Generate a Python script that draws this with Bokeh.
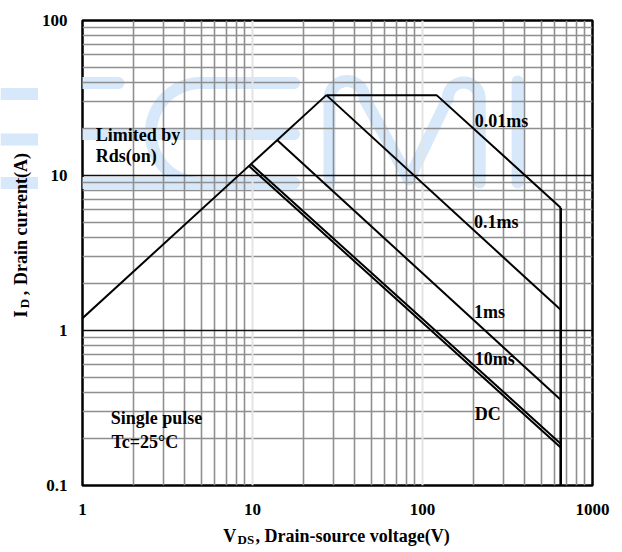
import numpy as np
from bokeh.plotting import figure
from bokeh.layouts import column, row
from bokeh.models import (FixedTicker, CustomJSTickFormatter, Span, Label, Range1d)
from bokeh.core.properties import value
from bokeh.embed import file_html
from bokeh.resources import INLINE

# ---------------- data ----------------
x_ticks = [1, 10, 100, 1000]
y_ticks = [0.1, 1, 10, 100]
x_minor = [2, 3, 4, 5, 6, 7, 8, 9, 20, 30, 40, 50, 60, 70, 80, 90,
           200, 300, 400, 500, 600, 700, 800, 900]
y_minor = [0.2, 0.3, 0.4, 0.5, 0.6, 0.7, 0.8, 0.9, 2, 3, 4, 5, 6, 7, 8, 9,
           20, 30, 40, 50, 60, 70, 80, 90]

rds_v = [1.0, 27.2]
rds_i = [1.2, 33.0]
us10_v = [27.2, 121.0, 650.0]
us10_i = [33.0, 33.0, 6.2]
us100_v = [27.2, 650.0]
us100_i = [33.0, 1.36]
ms1_v = [14.0, 650.0]
ms1_i = [16.9, 0.357]
ms10_v = [9.75, 650.0]
ms10_i = [11.9, 0.186]
dc_v = [9.5, 650.0]
dc_i = [11.55, 0.176]
bv_v = [650.0, 650.0]
bv_i = [6.2, 0.1]

curve_names = ["0.01ms", "0.1ms", "1ms", "10ms", "DC"]

x_title = ["V", "DS", ", Drain-source voltage(V)"]
y_title = ["I", "D", ",", "Drain current(A)"]

# ---------------- layout ----------------
TOTAL_W, TOTAL_H = 620, 552
YW = 38            # width of the y-title strip
MAIN_H = 522       # height of the main plot canvas
FX0, FX1 = 81.0, 592.0
FY0, FY1 = 20.0, 485.0
FDEC = (FX1 - FX0) / 3.0
FDECY = (FY1 - FY0) / 3.0
SH18 = 6.5         # baseline correction for 18px text
SH13 = 4.7         # baseline correction for 13px text


def dx(px):
    return 10 ** ((px - FX0) / FDEC)


def dy(py):
    return 10 ** (2 - (py - FY0) / FDECY)


FONT = "Liberation Serif"
WM = "#d6e8fa"

main_w = TOTAL_W - YW
p = figure(width=main_w, height=MAIN_H, x_axis_type="log", y_axis_type="log",
           x_range=Range1d(1, 1000), y_range=Range1d(0.1, 100),
           output_backend="svg", toolbar_location=None,
           min_border_left=int(FX0 - YW), min_border_right=int(main_w - (FX1 - YW)),
           min_border_top=int(FY0), min_border_bottom=int(MAIN_H - FY1))
p.background_fill_color = "white"
p.border_fill_color = "white"
p.outline_line_color = "black"
p.outline_line_width = 2.5

# ---------------- watermark (decorative) ----------------
wm_paths = []
wm_paths.append([(70, 82.5), (117, 82.5)])
wm_paths.append([(70, 133.5), (293, 133.5)])
wm_paths.append([(70, 182.5), (293, 182.5)])
ang = np.linspace(-np.pi / 2, -3 * np.pi / 2, 30)
cpath = [(293, 82.5)] + [(199.5 + 50 * np.cos(a), 132.5 + 50 * np.sin(a)) for a in ang] + [(293, 182.5)]
wm_paths.append(cpath)
a1 = np.linspace(np.pi, 2 * np.pi, 20)
mpath = [(328.5, 182), (328.5, 98)]
mpath += [(346 + 17.5 * np.cos(a), 98 + 17.5 * np.sin(a)) for a in a1]
mpath += [(408, 179)]
mpath += [(463 + 16 * np.cos(a), 98 + 16 * np.sin(a)) for a in a1]
mpath += [(479, 182)]
wm_paths.append(mpath)
wm_paths.append([(517, 81), (517, 182)])

wm = p.multi_line([[dx(x) for x, _ in path] for path in wm_paths],
                  [[dy(y) for _, y in path] for path in wm_paths],
                  line_color=WM, line_width=12, line_cap="round", line_join="round")
wm.level = "image"

# ---------------- grid ----------------
p.xgrid.ticker = FixedTicker(ticks=x_minor)
p.ygrid.ticker = FixedTicker(ticks=y_minor)
for g in (p.xgrid, p.ygrid):
    g.grid_line_color = "#8f8f8f"
    g.grid_line_width = 1.6
for loc in (10, 100):
    p.add_layout(Span(location=loc, dimension="height", line_color="#e4e4e4",
                      line_width=2, level="underlay"))
for loc in (1, 10):
    p.add_layout(Span(location=loc, dimension="width", line_color="#111111",
                      line_width=1.6, level="underlay"))

# ---------------- axes ----------------
fmt = CustomJSTickFormatter(code="return tick.toString();")
p.xaxis.ticker = FixedTicker(ticks=x_ticks)
p.yaxis.ticker = FixedTicker(ticks=y_ticks)
for ax in (p.xaxis, p.yaxis):
    ax.formatter = fmt
    ax.axis_line_color = None
    ax.major_tick_line_color = None
    ax.minor_tick_line_color = None
    ax.major_tick_out = 0
    ax.major_tick_in = 0
    ax.major_label_text_font = FONT
    ax.major_label_text_font_style = "bold"
    ax.major_label_text_font_size = "17px"
    ax.major_label_text_color = "black"
p.xaxis.major_label_standoff = 18
p.yaxis.major_label_standoff = 15

# ---------------- curves ----------------
LW = 2.0
p.line(rds_v, rds_i, line_color="black", line_width=LW)
p.line(us10_v, us10_i, line_color="black", line_width=LW)
p.line(us100_v, us100_i, line_color="black", line_width=LW)
p.line(ms1_v, ms1_i, line_color="black", line_width=LW)
p.line(ms10_v, ms10_i, line_color="black", line_width=LW)
p.line(dc_v, dc_i, line_color="black", line_width=LW)
p.line(bv_v, bv_i, line_color="black", line_width=2.6)


def lab(px, py, text, size="18px"):
    p.add_layout(Label(x=dx(px), y=dy(py - SH18), text=text, text_font=FONT,
                       text_font_style="bold", text_font_size=size,
                       text_color="black", text_align="left",
                       text_baseline="alphabetic"))


lab(94.3, 141, "Limited by")
lab(94.3, 161.5, "Rds(on)")
curve_label_pos = [(474, 126.5), (473.3, 228), (473.3, 318), (474, 365), (474, 420)]
for (px, py), name in zip(curve_label_pos, curve_names):
    lab(px, py, name)
lab(109.3, 424, "Single pulse")
lab(110, 448, "Tc=25°C")


# ---------------- helper strips for the axis titles ----------------
def strip(w, h, x0, y0):
    f = figure(width=w, height=h, x_range=Range1d(x0, x0 + w), y_range=Range1d(y0 + h, y0),
               output_backend="svg", toolbar_location=None,
               x_axis_location=None, y_axis_location=None, min_border=0)
    f.outline_line_color = None
    f.background_fill_color = "white"
    f.border_fill_color = "white"
    f.xgrid.visible = False
    f.ygrid.visible = False
    return f


ys = strip(YW, MAIN_H, 0, 0)
wmb = ys.segment(x0=[0, 0, 0], y0=[82.5, 133.5, 182.5], x1=[YW + 5] * 3, y1=[82.5, 133.5, 182.5],
                 line_color=WM, line_width=12)
wmb.level = "image"
R = np.pi / 2
ys.text(x=[26.7 - SH18, 28.4 - SH13, 26.7 - SH18, 26.7 - SH18], y=[333.5, 323, 308.5, 297],
        text=y_title, text_font=value(FONT), text_font_style="bold",
        text_font_size=["18px", "13px", "18px", "18px"],
        text_align="left", text_baseline="alphabetic", angle=R, text_color="black")

xs = strip(TOTAL_W, TOTAL_H - MAIN_H, 0, MAIN_H)
xs.text(x=[222.7, 237, 255], y=[541.5 - SH18, 543.5 - SH13, 541.5 - SH18], text=x_title,
        text_font=value(FONT), text_font_style="bold",
        text_font_size=["18px", "13px", "18px"],
        text_align="left", text_baseline="alphabetic", text_color="black")

layout = column(row(ys, p), xs)
open("out.html", "w").write(file_html(layout, INLINE))
